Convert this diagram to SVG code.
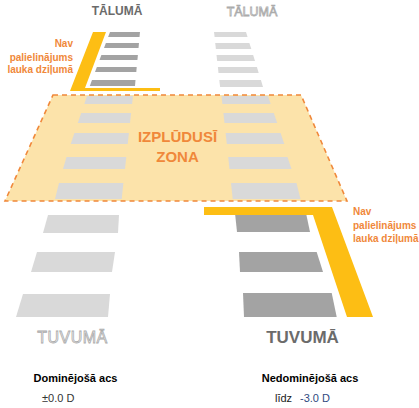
<svg xmlns="http://www.w3.org/2000/svg" width="419" height="408" viewBox="0 0 419 408">
<style>
.dk{fill:#A3A3A3}
.lt{fill:#D9D9D9}
.yl{fill:#FDBE14}
.or{fill:#F0883A;font-family:"Liberation Sans",Arial,sans-serif;font-weight:bold}
.hd{fill:#6B6B6B;font-family:"Liberation Sans",Arial,sans-serif;font-weight:bold}
.ol{fill:#FFFFFF;stroke:#ABABAB;stroke-width:0.8;font-family:"Liberation Sans",Arial,sans-serif}
.lb{font-family:"Liberation Sans",Arial,sans-serif;font-size:11px}
</style>
<rect width="419" height="408" fill="#FFFFFF"/>

<g id="zone">
<polygon points="53,95 301,95 347,201 5,201" fill="#FCE3AA" stroke="#F0883A" stroke-width="1.6" stroke-dasharray="5 4"/>
</g>

<g id="far-left-bars">
<polygon class="dk" points="110,32 140,32 139.5,37 108.1,37"/>
<polygon class="dk" points="105.9,43 139,43 138.5,48 104,48"/>
<polygon class="dk" points="101.4,55 137.9,55 137.4,60 99.5,60"/>
<polygon class="dk" points="96.9,67 136.7,67 136.3,72 95,72"/>
<polygon class="dk" points="92,80 135.5,80 135,86 89.8,86"/>
</g>
<g id="far-left-bracket">
<polygon class="yl" points="93,32 106,32 85,88 160,88 160,91 70,91"/>
</g>

<g id="far-right-bars">
<polygon class="lt" points="214,32 246,32 247.6,37 214.6,37"/>
<polygon class="lt" points="215.2,43 249.4,43 251.3,49 215.9,49"/>
<polygon class="lt" points="216.5,55 253.1,55 255,61 217.2,61"/>
<polygon class="lt" points="217.9,67 256.9,67 258.7,73 218.5,73"/>
<polygon class="lt" points="219.3,80 260.9,80 263,87 220.1,87"/>
</g>

<g id="zone-left-bars">
<polygon class="lt" points="87,96 133,96 132.1,104 84.3,104"/>
<polygon class="lt" points="81.2,113 131.1,113 130,123 77.8,123"/>
<polygon class="lt" points="74.4,133 128.9,133 127.7,144 70.7,144"/>
<polygon class="lt" points="66.5,157 126.3,157 125,169 63,169"/>
<polygon class="lt" points="59,183 123.4,183 121.7,199 55,199"/>
</g>
<g id="zone-right-bars">
<polygon class="lt" points="221.5,96 268,96 270.7,104 222.4,104"/>
<polygon class="lt" points="223.4,113 273.8,113 277.2,123 224.5,123"/>
<polygon class="lt" points="225.6,133 280.6,133 284.3,144 226.8,144"/>
<polygon class="lt" points="228.2,157 287.5,157 291.5,169 229.5,169"/>
<polygon class="lt" points="231,183 296.5,183 300.5,199 232.7,199"/>
</g>
<g id="zone-label">
<text class="or" x="177.5" y="142" font-size="15" text-anchor="middle">IZPLŪDUSĪ</text>
<text class="or" x="177.5" y="162" font-size="15" text-anchor="middle">ZONA</text>
</g>

<g id="near-left-bars">
<polygon class="lt" points="48,215 119,215 118,233 43,233"/>
<polygon class="lt" points="37,252 115,252 112,272 31,272"/>
<polygon class="lt" points="23,294 110,294 108,317 16,317"/>
</g>
<g id="near-right-bars">
<polygon class="dk" points="235,213 306,213 310,232 237,232"/>
<polygon class="dk" points="239,252 316.7,252 323,272 240,272"/>
<polygon class="dk" points="243,293 331.7,293 336.7,317 244,317"/>
</g>
<g id="near-right-bracket">
<polygon class="yl" points="204,207 332,207 373,317 347,317 313,215 204,215"/>
</g>

<g id="labels-far">
<text class="hd" x="117" y="15" font-size="12" text-anchor="middle">TĀLUMĀ</text>
<text class="ol" x="252" y="16" font-size="12.5" text-anchor="middle">TĀLUMĀ</text>
</g>
<g id="note-left">
<text class="or" font-size="10" text-anchor="end"><tspan x="73" y="47">Nav</tspan><tspan x="73" y="60.5">palielinājums</tspan><tspan x="73" y="73">lauka dziļumā</tspan></text>
</g>
<g id="note-right">
<text class="or" font-size="10"><tspan x="353" y="215">Nav</tspan><tspan x="353" y="228.5">palielinājums</tspan><tspan x="353" y="242">lauka dziļumā</tspan></text>
</g>
<g id="labels-near">
<text class="ol" x="72.5" y="343" font-size="16" text-anchor="middle" letter-spacing="0.5">TUVUMĀ</text>
<text class="hd" x="302.5" y="343" font-size="17" text-anchor="middle">TUVUMĀ</text>
</g>
<g id="eye-left">
<text class="lb" x="75.5" y="382" font-weight="bold" fill="#000000" text-anchor="middle">Dominējošā acs</text>
<text class="lb" x="42" y="402" fill="#333333">±0.0 D</text>
</g>
<g id="eye-right">
<text class="lb" x="310" y="382" font-weight="bold" fill="#000000" text-anchor="middle">Nedominējošā acs</text>
<text class="lb" x="275" y="402" fill="#1A1A1A">līdz</text>
<text class="lb" x="300" y="402" fill="#2F4A80">-3.0 D</text>
</g>
</svg>
